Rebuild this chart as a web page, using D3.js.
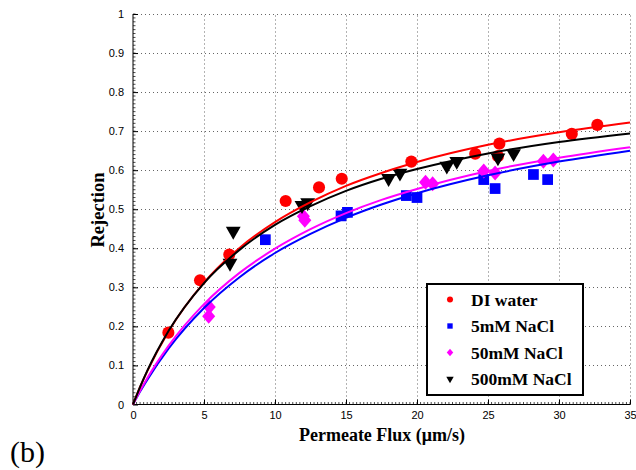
<!DOCTYPE html>
<html><head><meta charset="utf-8">
<script src="https://cdn.jsdelivr.net/npm/d3@7"></script>
<style>body{margin:0;background:#fff}svg{display:block}</style>
</head><body>
<svg id="c" width="636" height="470"></svg>
<script>
// ---- data ----
const seriesNames = ["DI water", "5mM NaCl", "50mM NaCl", "500mM NaCl"];
const seriesColors = ["#ff0000", "#0000ff", "#ff00ff", "#000000"];
const seriesShapes = ["circle", "square", "diamond", "triangle"];

const diFlux = [2.49, 4.72, 6.78, 10.75, 13.1, 14.7, 19.6, 24.1, 25.7, 25.8, 30.9, 32.7];
const diRej  = [0.184, 0.318, 0.384, 0.521, 0.556, 0.578, 0.622, 0.642, 0.636, 0.668, 0.693, 0.716];

const mM5Flux = [9.32, 14.65, 15.1, 19.25, 20.0, 24.7, 25.5, 28.2, 29.2];
const mM5Rej  = [0.422, 0.483, 0.492, 0.535, 0.530, 0.576, 0.553, 0.589, 0.576];

const mM50Flux = [5.37, 5.33, 12.0, 12.1, 20.6, 21.1, 24.7, 25.5, 28.9, 29.6];
const mM50Rej  = [0.250, 0.226, 0.482, 0.472, 0.569, 0.565, 0.598, 0.593, 0.623, 0.626];

const mM500Flux = [6.83, 7.06, 11.9, 12.3, 18.0, 18.8, 22.1, 22.8, 25.7, 26.8];
const mM500Rej  = [0.362, 0.444, 0.510, 0.517, 0.579, 0.593, 0.611, 0.623, 0.632, 0.643];

// fitted curves
const fitFlux = [0, 0.5, 1, 2.5, 5, 7.5, 10, 12.5, 15, 17.5, 20, 25, 30, 35];
const fitDI    = [0, 0.045, 0.085, 0.187, 0.312, 0.401, 0.467, 0.518, 0.560, 0.593, 0.621, 0.665, 0.697, 0.722];
const fit5mM   = [0, 0.033, 0.063, 0.143, 0.247, 0.326, 0.388, 0.437, 0.478, 0.512, 0.541, 0.587, 0.622, 0.650];
const fit50mM  = [0, 0.035, 0.067, 0.150, 0.257, 0.337, 0.399, 0.449, 0.490, 0.524, 0.552, 0.598, 0.632, 0.659];
const fit500mM = [0, 0.045, 0.086, 0.188, 0.311, 0.396, 0.460, 0.508, 0.547, 0.578, 0.603, 0.643, 0.672, 0.694];

const xTicks = [0, 5, 10, 15, 20, 25, 30, 35];
const yTicks = [0, 0.1, 0.2, 0.3, 0.4, 0.5, 0.6, 0.7, 0.8, 0.9, 1];

// ---- chart ----
const svg = d3.select("#c");
const L = 133, R = 630, T = 14, B = 404.5;
const x = d3.scaleLinear().domain([0, 35]).range([L, R]);
const y = d3.scaleLinear().domain([0, 1]).range([B, T]);

// grid
const grid = svg.append("g").attr("stroke", "#666").attr("stroke-width", 1).attr("stroke-dasharray", "1,3");
grid.selectAll("line.gx").data(xTicks.filter(d => d > 0)).join("line")
  .attr("x1", d => Math.round(x(d)) + 0.5).attr("x2", d => Math.round(x(d)) + 0.5)
  .attr("y1", B).attr("y2", T);
grid.selectAll("line.gy").data(yTicks.filter(d => d > 0)).join("line")
  .attr("y1", d => Math.round(y(d)) + 0.5).attr("y2", d => Math.round(y(d)) + 0.5)
  .attr("x1", L).attr("x2", R);

// axes
const fontTick = "'Liberation Sans', Arial, sans-serif";
const xAxis = d3.axisBottom(x).tickValues(xTicks).tickFormat(d3.format("d")).tickSize(-5).tickPadding(9);
const gx = svg.append("g").attr("transform", `translate(0,${B})`).call(xAxis);
const yAxis = d3.axisLeft(y).tickValues(yTicks).tickFormat(d => d === 0 ? "0" : d === 1 ? "1" : d3.format(".1f")(d)).tickSize(-5).tickPadding(9);
const gy = svg.append("g").attr("transform", `translate(${L},0)`).call(yAxis);
[gx, gy].forEach(g => {
  g.select(".domain").remove();
  g.selectAll("text").attr("font-family", fontTick).attr("font-size", 11).attr("fill", "#000");
  g.selectAll("line").attr("stroke", "#000");
});
gx.selectAll("text").attr("dy", "0.5em");
// minor ticks
const xMinor = d3.range(0, 35.001, 0.25);
const yMinor = d3.range(0, 1.0001, 0.01);
const minor = svg.append("g").attr("stroke", "#000").attr("stroke-width", 0.7);
minor.selectAll("line.mx").data(xMinor).join("line")
  .attr("x1", d => x(d)).attr("x2", d => x(d)).attr("y1", B).attr("y2", B - 2.5);
minor.selectAll("line.my").data(yMinor).join("line")
  .attr("y1", d => y(d)).attr("y2", d => y(d)).attr("x1", L).attr("x2", L + 2.5);
svg.append("line").attr("x1", L).attr("x2", R).attr("y1", B).attr("y2", B).attr("stroke", "#000");
svg.append("line").attr("x1", L).attr("x2", L).attr("y1", B).attr("y2", T).attr("stroke", "#000");

// markers
const symType = { circle: d3.symbolCircle, square: d3.symbolSquare, triangle: d3.symbolTriangle };
function marker(g, shape, scale, color) {
  if (shape === "diamond") {
    const w = 6.5 * scale, h = 7.5 * scale;
    g.append("path").attr("d", `M0,${-h}L${w},0L0,${h}L${-w},0Z`).attr("fill", color);
  } else if (shape === "triangle") {
    g.append("path").attr("d", d3.symbol(symType.triangle, 95 * scale * scale)()).attr("fill", color).attr("transform", "rotate(180)");
  } else {
    g.append("path").attr("d", d3.symbol(symType[shape], 115 * scale * scale)()).attr("fill", color);
  }
}
const series = [
  { fx: diFlux, ry: diRej, i: 0 },
  { fx: mM5Flux, ry: mM5Rej, i: 1 },
  { fx: mM50Flux, ry: mM50Rej, i: 2 },
  { fx: mM500Flux, ry: mM500Rej, i: 3 }
];
series.forEach(s => {
  const g = svg.append("g");
  s.fx.forEach((v, k) => {
    const m = g.append("g").attr("transform", `translate(${x(v)},${y(s.ry[k])})`);
    marker(m, seriesShapes[s.i], 1, seriesColors[s.i]);
  });
});

// fit curves
const line = d3.line().x(d => x(d[0])).y(d => y(d[1])).curve(d3.curveMonotoneX);
const fits = [[fit5mM, 1], [fit50mM, 2], [fitDI, 0], [fit500mM, 3]];
fits.forEach(([arr, i]) => {
  svg.append("path").datum(fitFlux.map((v, k) => [v, arr[k]]))
    .attr("d", line).attr("fill", "none").attr("stroke", seriesColors[i]).attr("stroke-width", 2);
});

// legend
const serif = "'Liberation Serif', 'Times New Roman', serif";
const lg = svg.append("g");
lg.append("rect").attr("x", 427).attr("y", 284).attr("width", 156).attr("height", 111)
  .attr("fill", "#fff").attr("stroke", "#000").attr("stroke-width", 2);
const rowsY = [299.5, 326, 352.5, 379];
seriesNames.forEach((n, i) => {
  const m = lg.append("g").attr("transform", `translate(450,${rowsY[i]})`);
  marker(m, seriesShapes[i], 0.5, seriesColors[i]);
  lg.append("text").attr("x", 471).attr("y", rowsY[i]).attr("dy", "0.35em")
    .attr("font-family", serif).attr("font-weight", "bold")
    .attr("font-size", 17.5).text(n);
});

// axis titles
svg.append("text").attr("x", 382).attr("y", 441).attr("text-anchor", "middle")
  .attr("font-family", serif).attr("font-weight", "bold")
  .attr("font-size", 18).text("Permeate Flux (μm/s)");
svg.append("text").attr("transform", "translate(104,210) rotate(-90)").attr("text-anchor", "middle")
  .attr("font-family", serif).attr("font-weight", "bold")
  .attr("font-size", 18.5).text("Rejection");
svg.append("text").attr("x", 10).attr("y", 462)
  .attr("font-family", serif)
  .attr("font-size", 30).text("(b)");
</script>
</body></html>
